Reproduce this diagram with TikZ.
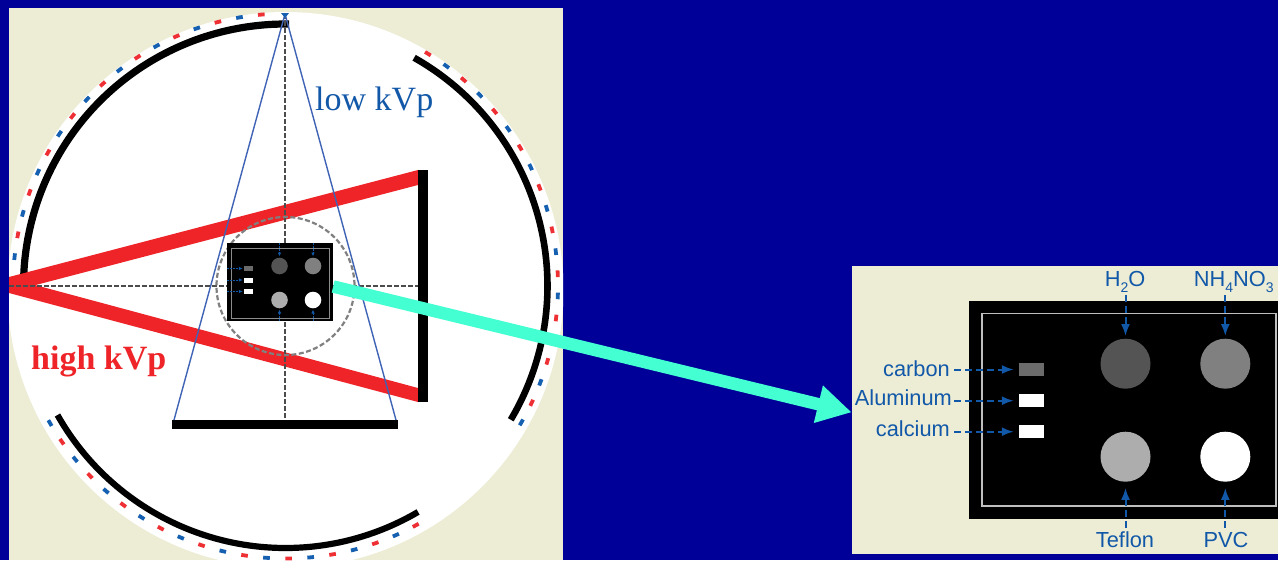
\documentclass[tikz,border=0pt]{standalone}
\usepackage{fontspec}
\setmainfont{Liberation Sans}
\newfontfamily\serifface{Liberation Serif}
\usetikzlibrary{arrows.meta,calc}
\definecolor{bgblue}{HTML}{000099}
\definecolor{panelbeige}{HTML}{EDEDD6}
\definecolor{beamred}{HTML}{EE2428}
\definecolor{dashred}{HTML}{EE3034}
\definecolor{dashblue}{HTML}{1560B0}
\definecolor{labelblue}{HTML}{1258A8}
\definecolor{coneblue}{HTML}{3F63B5}
\definecolor{aqua}{HTML}{44FFD2}
\tikzset{
  panelfill/.style={fill=panelbeige,draw=none},
  blackarc/.style={draw=black,line width=7.2pt},
  beam/.style={fill=beamred,draw=none},
  barfill/.style={fill=black,draw=none},
  axisline/.style={draw=black!70,line width=2pt,dash pattern=on 5pt off 2pt},
  cone/.style={draw=coneblue,line width=1.4pt},
  lbl/.style={text=labelblue,inner sep=0pt,font=\fontsize{21.8}{24}\selectfont},
  bigarrow/.style={draw=labelblue,line width=2pt,dash pattern=on 7pt off 4pt,-{Latex[length=12pt,width=9pt]}},
  tinyarrow/.style={draw=labelblue,line width=.9pt,dash pattern=on 2pt off 1.2pt,-{Latex[length=4pt,width=3.5pt]}},
  sq/.style={draw=none,inner sep=0pt,minimum width=#1,rectangle},
  disc/.style={circle,draw=none,inner sep=0pt,minimum size=#1},
}
\newcommand{\ringdashes}[4]{% start angle, step, last index, first colour index
  \foreach \i in {0,...,#3}{
    \pgfmathsetmacro{\ang}{#1-\i*#2}
    \pgfmathtruncatemacro{\odd}{mod(\i+#4,2)}
    \ifnum\odd=0 \def\dc{dashred}\else\def\dc{dashblue}\fi
    \draw[color=\dc,line width=3.8pt] ($(ctr)+(-\ang+0.7:272.5)$) arc[start angle=-\ang+0.7,end angle=-\ang-0.7,radius=272.5];
  }
}
\begin{document}
\begin{tikzpicture}[x=1pt,y=-1pt]
\useasboundingbox (0,0) rectangle (1278,560);
\fill[bgblue] (0,0) rectangle (1278,560);
% left panel
\fill[panelfill] (9,8) rectangle (563,560);
\coordinate (ctr) at (285.5,286);
\coordinate (whitectr) at (285.5,290);
\begin{scope}
  \clip (9,8) rectangle (563,560);
  \fill[white] (whitectr) circle[radius=278];
\end{scope}
\ringdashes{95.1}{-4.63}{17}{0}
\ringdashes{58.5}{4.66}{19}{0}
\ringdashes{210.2}{-4.65}{19}{1}
% detector arcs
\draw[blackarc] ($(ctr)+(-89.2:262)$) arc[start angle=-89.2,end angle=-180.5,radius=262];
\draw[blackarc,line width=6.6pt] ($(ctr)+(-60.6:262)$) arc[start angle=-60.6,end angle=30.7,radius=262];
\draw[blackarc,line width=6.2pt] ($(ctr)+(-209.5:262)$) arc[start angle=-209.5,end angle=-300.4,radius=262];
% beams
\fill[beam] (418,170) -- (418,185) -- (9,292) -- (9,277) -- cycle;
\fill[beam] (418,388) -- (418,402) -- (9,293) -- (9,278) -- cycle;
% detectors
\node[barfill,rectangle,inner sep=0pt,minimum width=10pt,minimum height=232pt] (rightbar) at (423,286) {};
\node[barfill,rectangle,inner sep=0pt,minimum width=226pt,minimum height=9pt] (bottombar) at (285,424) {};
% axes
\coordinate (apex) at (285,14);
\coordinate (leftedge) at (9,285.5);
\draw[axisline] (apex) -- (285,419.5);
\draw[axisline] (leftedge) -- (418,285.5);
% low kVp fan
\draw[cone] (apex) -- (174,420);
\draw[cone] (apex) -- (396,420);
\fill[dashblue] (281,13) -- (289,13) -- (285,18) -- cycle;
% field of view
\draw[draw=black!50,line width=2.2pt,dash pattern=on 5pt off 2.5pt] (285.5,286) circle[radius=69];
% small phantom
\node[barfill,rectangle,inner sep=0pt,minimum width=106pt,minimum height=78pt] (smallpanel) at (280,282) {};
\draw[draw=black!45,line width=1pt] (231.5,248) rectangle (329,318);
\node[disc=16.6pt,fill=black!67] (sa) at (279.5,266) {};
\node[disc=16.6pt,fill=black!50] (sb) at (313,266) {};
\node[disc=16.6pt,fill=black!32] (sc) at (279.5,300) {};
\node[disc=16.6pt,fill=white] (sd) at (313,300) {};
\node[sq=9pt,minimum height=5pt,fill=black!58] (sr1) at (248.5,268.5) {};
\node[sq=9pt,minimum height=5pt,fill=white] (sr2) at (248.5,280) {};
\node[sq=9pt,minimum height=5pt,fill=white] (sr3) at (248.5,291.5) {};
\draw[tinyarrow] (sr1.west -| smallpanel.west) -- ($(sr1.west)+(-1,0)$);
\draw[tinyarrow] (sr2.west -| smallpanel.west) -- ($(sr2.west)+(-1,0)$);
\draw[tinyarrow] (sr3.west -| smallpanel.west) -- ($(sr3.west)+(-1,0)$);
\draw[tinyarrow] (sa.north |- smallpanel.north) -- ($(sa.north)+(0,-1)$);
\draw[tinyarrow] (sb.north |- smallpanel.north) -- ($(sb.north)+(0,-1)$);
\draw[tinyarrow] (sc.south |- smallpanel.south) -- ($(sc.south)+(0,1)$);
\draw[tinyarrow] (sd.south |- smallpanel.south) -- ($(sd.south)+(0,1)$);
% texts on left panel
\node[anchor=base west,inner sep=0pt,text=labelblue,font=\fontsize{34}{36}\selectfont\serifface] (lowkvp) at (315,110) {low kVp};
\node[anchor=base west,inner sep=0pt,text=beamred,font=\fontsize{34}{36}\selectfont\serifface\bfseries] (highkvp) at (31,369) {high kVp};
% right panel
\fill[panelfill] (852,266) rectangle (1278,554);
\fill[black] (969,301) rectangle (1278,519);
\draw[draw=black!25,line width=1.4pt] (982,313.5) rectangle (1276,506);
\node[disc=50pt,fill=black!67] (ba) at (1125.5,363.7) {};
\node[disc=50pt,fill=black!50] (bb) at (1225.3,363.7) {};
\node[disc=50pt,fill=black!32] (bc) at (1125.5,456.7) {};
\node[disc=50pt,fill=white] (bd) at (1225.3,456.7) {};
\node[sq=25pt,minimum height=13pt,fill=black!58] (br1) at (1031.5,369.5) {};
\node[sq=25pt,minimum height=13pt,fill=white] (br2) at (1031.5,400.7) {};
\node[sq=25pt,minimum height=13pt,fill=white] (br3) at (1031.5,431.7) {};
\node[lbl,anchor=base east] (carbon) at (950,376) {carbon};
\node[lbl,anchor=base east] (alum) at (952,405) {Aluminum};
\node[lbl,anchor=base east] (calc) at (950,436.7) {calcium};
\node[lbl,anchor=base] (water) at (1125,286) {H\raisebox{-.28em}{\fontsize{14}{14}\selectfont 2}O};
\node[lbl,anchor=base] (nitrate) at (1233.7,286) {NH\raisebox{-.28em}{\fontsize{14}{14}\selectfont 4}NO\raisebox{-.28em}{\fontsize{14}{14}\selectfont 3}};
\node[lbl,anchor=base] (teflon) at (1125,547.3) {Teflon};
\node[lbl,anchor=base] (pvc) at (1226,547.3) {PVC};
\coordinate (cstart) at (954.3,0);
\draw[bigarrow] (cstart |- br1.west) -- ($(br1.west)+(-5,0)$);
\draw[bigarrow] (cstart |- br2.west) -- ($(br2.west)+(-5,0)$);
\draw[bigarrow] (cstart |- br3.west) -- ($(br3.west)+(-5,0)$);
\coordinate (tstart) at (0,295);
\coordinate (bstart) at (0,527.7);
\draw[bigarrow] (ba.north |- tstart) -- ($(ba.north)+(0,-2.5)$);
\draw[bigarrow] (bb.north |- tstart) -- ($(bb.north)+(0,-2.5)$);
\draw[bigarrow] (bc.south |- bstart) -- ($(bc.south)+(0,6)$);
\draw[bigarrow] (bd.south |- bstart) -- ($(bd.south)+(0,6)$);
% zoom arrow
\coordinate (ztip) at (851.7,412.3);
\draw[draw=aqua,line width=12.5pt,-{Triangle[length=34.3pt,width=36pt,fill=aqua]}] ($(smallpanel.east)+(0,4.5)$) -- (ztip);
\end{tikzpicture}
\end{document}
